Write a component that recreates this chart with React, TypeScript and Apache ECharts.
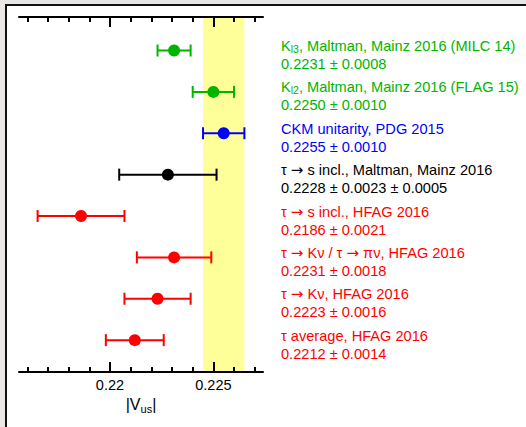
import React, { useEffect, useRef } from 'react';
import * as echarts from 'echarts';

// Determinations of |Vus|, listed top to bottom
const MEASUREMENTS = [
  'K_{l3}, Maltman, Mainz 2016 (MILC 14)',
  'K_{l2}, Maltman, Mainz 2016 (FLAG 15)',
  'CKM unitarity, PDG 2015',
  'τ → s incl., Maltman, Mainz 2016',
  'τ → s incl., HFAG 2016',
  'τ → Kν / τ → πν, HFAG 2016',
  'τ → Kν, HFAG 2016',
  'τ average, HFAG 2016',
];
const CENTRAL = [0.2231, 0.225, 0.2255, 0.2228, 0.2186, 0.2231, 0.2223, 0.2212];
const STAT_ERR = [0.0008, 0.001, 0.001, 0.0023, 0.0021, 0.0018, 0.0016, 0.0014];
const SYST_ERR = [0, 0, 0, 0.0005, 0, 0, 0, 0];
const COLORS = ['#00b400', '#00b400', '#0000ff', '#000000', '#ff0000', '#ff0000', '#ff0000', '#ff0000'];

// CKM unitarity result shown as a shaded band
const BAND_ROW = 2;

const X_MIN = 0.2156;
const X_MAX = 0.2274;
const MAJOR_TICKS = [0.22, 0.225];
const TICK_LABELS = ['0.22', '0.225'];
const MINOR_TICKS = [0.216, 0.217, 0.218, 0.219, 0.22, 0.221, 0.222, 0.223, 0.224, 0.225, 0.226, 0.227];

const FONT = '"Liberation Sans", Arial, Helvetica, sans-serif';
const ARROW_FONT = '"DejaVu Sans", sans-serif';
const LABEL_SIZE = 14.6;

// subscripts as {s|..}, arrows as {r|..}, everything else as {a|..}
const toRich = (s: string) =>
  ('{a|' + s.replace(/_\{([^}]*)\}/g, '}{s|$1}{a|').replace(/→/g, '}{r|→}{a|') + '}').replace(/\{a\|\}/g, '');

const fmt = (v: number) => v.toFixed(4);

const valueLine = (i: number) =>
  fmt(CENTRAL[i]) + ' ± ' + fmt(STAT_ERR[i]) + (SYST_ERR[i] > 0 ? ' ± ' + fmt(SYST_ERR[i]) : '');

export default function App() {
  const ref = useRef<HTMLDivElement>(null);

  useEffect(() => {
    if (!ref.current) return;
    const chart = echarts.init(ref.current, undefined, { renderer: 'svg' });

    const points = CENTRAL.map((v, i) => [
      v,
      Math.sqrt(STAT_ERR[i] * STAT_ERR[i] + SYST_ERR[i] * SYST_ERR[i]),
      i,
    ]);
    const band = [[CENTRAL[BAND_ROW] - STAT_ERR[BAND_ROW], CENTRAL[BAND_ROW] + STAT_ERR[BAND_ROW], 0]];

    const Y_MIN = -0.81;
    const Y_MAX = 7.77;

    const axisBase = {
      type: 'value' as const,
      min: X_MIN,
      max: X_MAX,
      z: 10,
      splitLine: { show: false },
    };

    const option: any = {
      animation: false,
      grid: { left: 19, right: 263, top: 17, bottom: 55 },
      xAxis: [
        {
          ...axisBase,
          position: 'bottom',
          axisLine: { show: true, onZero: false, lineStyle: { color: '#000', width: 2 } },
          axisTick: {
            show: true,
            inside: true,
            length: 10,
            customValues: MAJOR_TICKS,
            lineStyle: { color: '#000', width: 2 },
          },
          axisLabel: {
            show: true,
            customValues: MAJOR_TICKS,
            formatter: (v: number) => {
              const k = MAJOR_TICKS.findIndex((t) => Math.abs(t - v) < 1e-9);
              return k >= 0 ? TICK_LABELS[k] : '';
            },
            margin: 5,
            color: '#000',
            fontSize: 14.5,
            fontFamily: FONT,
          },
          name: '{a||V}{s|us}{a||}',
          nameLocation: 'middle',
          nameGap: 22,
          nameTextStyle: {
            color: '#000',
            fontFamily: FONT,
            rich: {
              a: { fontSize: 16, lineHeight: 20, fontFamily: FONT, color: '#000' },
              s: { fontSize: 11, lineHeight: 8, verticalAlign: 'bottom', fontFamily: FONT, color: '#000' },
            },
          },
        },
        {
          ...axisBase,
          position: 'bottom',
          axisLine: { show: false, onZero: false },
          axisTick: {
            show: true,
            inside: true,
            length: 5,
            customValues: MINOR_TICKS,
            lineStyle: { color: '#000', width: 2 },
          },
          axisLabel: { show: false },
        },
        {
          ...axisBase,
          position: 'top',
          axisLine: { show: true, onZero: false, lineStyle: { color: '#000', width: 2 } },
          axisTick: {
            show: true,
            inside: true,
            length: 10,
            customValues: MAJOR_TICKS,
            lineStyle: { color: '#000', width: 2 },
          },
          axisLabel: { show: false },
        },
        {
          ...axisBase,
          position: 'top',
          axisLine: { show: false, onZero: false },
          axisTick: {
            show: true,
            inside: true,
            length: 5,
            customValues: MINOR_TICKS,
            lineStyle: { color: '#000', width: 2 },
          },
          axisLabel: { show: false },
        },
      ],
      yAxis: {
        type: 'value',
        inverse: true,
        min: Y_MIN,
        max: Y_MAX,
        show: false,
      },
      series: [
        {
          type: 'custom',
          z: 1,
          silent: true,
          data: band,
          encode: { x: [0, 1], y: 2 },
          renderItem: (_params: any, api: any) => {
            const p0 = api.coord([api.value(0), Y_MIN]);
            const p1 = api.coord([api.value(1), Y_MAX]);
            return {
              type: 'rect',
              shape: {
                x: Math.min(p0[0], p1[0]),
                y: Math.min(p0[1], p1[1]),
                width: Math.abs(p1[0] - p0[0]),
                height: Math.abs(p1[1] - p0[1]),
              },
              style: { fill: '#ffff99' },
            };
          },
        },
        {
          type: 'custom',
          z: 5,
          silent: true,
          clip: false,
          data: points,
          encode: { x: 0, y: 2 },
          renderItem: (params: any, api: any) => {
            const i = params.dataIndex;
            const v = api.value(0);
            const e = api.value(1);
            const row = api.value(2);
            const c = api.coord([v, row]);
            const lo = api.coord([v - e, row])[0];
            const hi = api.coord([v + e, row])[0];
            const y = c[1];
            const color = COLORS[i];
            const cap = 6;
            const textX = api.coord([X_MAX, row])[0] + 18;
            const stroke = { stroke: color, lineWidth: 2 };
            return {
              type: 'group',
              children: [
                { type: 'line', shape: { x1: lo, y1: y, x2: hi, y2: y }, style: stroke },
                { type: 'line', shape: { x1: lo, y1: y - cap, x2: lo, y2: y + cap }, style: stroke },
                { type: 'line', shape: { x1: hi, y1: y - cap, x2: hi, y2: y + cap }, style: stroke },
                { type: 'circle', shape: { cx: c[0], cy: y, r: 6 }, style: { fill: color } },
                {
                  type: 'text',
                  x: textX,
                  y: y - 4.4,
                  style: {
                    text: toRich(MEASUREMENTS[i]),
                    fill: color,
                    verticalAlign: 'middle',
                    align: 'left',
                    rich: {
                      a: { fontSize: LABEL_SIZE, lineHeight: 16, fontFamily: FONT, fill: color },
                      r: { fontSize: 15, lineHeight: 16, fontFamily: ARROW_FONT, fill: color },
                      s: { fontSize: 10.5, lineHeight: 10, verticalAlign: 'bottom', fontFamily: FONT, fill: color },
                    },
                  },
                },
                {
                  type: 'text',
                  x: textX,
                  y: y + 13.5,
                  style: {
                    text: valueLine(i),
                    fill: color,
                    fontSize: LABEL_SIZE,
                    fontFamily: FONT,
                    verticalAlign: 'middle',
                    align: 'left',
                  },
                },
              ],
            };
          },
        },
      ],
    };

    chart.setOption(option);
    return () => chart.dispose();
  }, []);

  return (
    <div
      style={{
        position: 'absolute',
        left: 0,
        top: 0,
        width: 526,
        height: 427,
        overflow: 'hidden',
        background: '#ece8e3',
      }}
    >
      <div style={{ position: 'absolute', left: 0, top: 0, width: 526, height: 4, background: '#e7e7e7' }} />
      <div
        style={{
          position: 'absolute',
          left: 5,
          top: 4,
          width: 540,
          height: 440,
          background: '#ffffff',
          borderLeft: '2px solid #111',
          borderTop: '2px solid #111',
          boxSizing: 'border-box',
        }}
      />
      <div ref={ref} style={{ position: 'absolute', left: 0, top: 0, width: 526, height: 427 }} />
    </div>
  );
}
